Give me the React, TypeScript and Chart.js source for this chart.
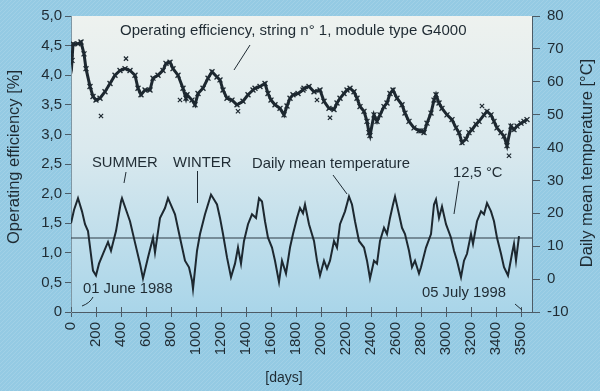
import React, { useEffect, useRef } from 'react';
import { Chart, registerables } from 'chart.js';

Chart.register(...registerables);

// Daily mean temperature [°C] vs. days
const tempDays = [0, 24, 56, 88, 112, 136, 176, 200, 224, 256, 296, 320, 360, 400, 408, 472, 512, 552, 576, 616, 656, 672, 712, 752, 776, 832, 872, 912, 944, 968, 976, 1008, 1032, 1072, 1120, 1168, 1192, 1216, 1248, 1280, 1312, 1336, 1360, 1384, 1416, 1448, 1480, 1504, 1528, 1552, 1576, 1608, 1632, 1664, 1688, 1720, 1752, 1776, 1808, 1832, 1856, 1872, 1904, 1944, 1968, 1992, 2024, 2048, 2072, 2104, 2128, 2152, 2192, 2224, 2248, 2272, 2304, 2344, 2368, 2392, 2424, 2448, 2472, 2504, 2528, 2552, 2576, 2592, 2624, 2648, 2672, 2704, 2728, 2752, 2784, 2800, 2840, 2880, 2904, 2920, 2944, 2968, 3000, 3040, 3064, 3088, 3120, 3144, 3168, 3200, 3216, 3248, 3280, 3304, 3328, 3360, 3384, 3408, 3440, 3464, 3496, 3528, 3544, 3560, 3584];
const tempValues = [17, 21, 24.6, 20.6, 16.7, 14.6, 2.6, 1.1, 4.7, 7.7, 11.3, 8.6, 14.6, 23.6, 24.6, 17.6, 11.1, 4.7, 0.2, 6.6, 12.6, 8.1, 18.6, 21.6, 24.6, 19.7, 12.6, 5.6, 3.6, -0.4, -3, 8.6, 13.7, 19.7, 25.7, 22.7, 18.6, 13.7, 6.6, 0.6, 4.7, 9.6, 4.7, 11.6, 16.7, 19.7, 18.6, 24.6, 23.6, 17.6, 12.6, 9.6, 5.6, -0.9, 5.6, 1.7, 9.6, 13.7, 18.6, 21.6, 20, 22.7, 16.7, 11.6, 5.6, 1.1, 5.6, 3.2, 5.6, 11.6, 9.6, 16.7, 20.6, 25.1, 22.7, 17.6, 11.6, 9.6, 5.6, 0.2, 5.6, 4.7, 11.6, 15.6, 13.7, 18.6, 22.7, 25.1, 19.7, 15.6, 13.7, 8.6, 3.6, 5.6, 1.7, 3.6, 9.6, 13.7, 22.7, 24.2, 18.6, 22.1, 16.7, 12.6, 8.6, 5.6, 0.6, 5.6, 7.7, 13.7, 10.7, 17.6, 20.6, 19.7, 23.1, 20.6, 17.6, 12.6, 7.7, 3.6, 1.1, 7.7, 10.7, 5.6, 13.1];

// Operating efficiency [%] vs. days
const effDays = [0, 8, 16, 56, 80, 104, 120, 152, 176, 200, 232, 272, 312, 352, 392, 432, 472, 512, 536, 560, 592, 632, 656, 696, 736, 760, 792, 816, 856, 896, 920, 928, 968, 992, 1016, 1056, 1096, 1128, 1168, 1192, 1216, 1248, 1288, 1328, 1376, 1416, 1456, 1472, 1512, 1552, 1576, 1600, 1632, 1672, 1704, 1728, 1752, 1776, 1816, 1856, 1864, 1904, 1944, 1992, 2024, 2064, 2104, 2128, 2152, 2184, 2208, 2232, 2264, 2288, 2312, 2344, 2368, 2384, 2392, 2424, 2448, 2472, 2504, 2528, 2552, 2576, 2608, 2648, 2672, 2704, 2744, 2784, 2800, 2824, 2848, 2880, 2904, 2920, 2944, 2968, 3008, 3048, 3080, 3104, 3128, 3160, 3184, 3208, 3240, 3264, 3304, 3328, 3360, 3384, 3408, 3440, 3464, 3488, 3520, 3544, 3568, 3600, 3624, 3648];
const effValues = [4.36, 4.25, 4.53, 4.53, 4.56, 4.36, 4.11, 3.81, 3.64, 3.58, 3.61, 3.72, 3.86, 4.0, 4.08, 4.11, 4.08, 4.0, 3.78, 3.67, 3.75, 3.75, 3.95, 4.0, 4.08, 4.2, 4.22, 4.11, 4.0, 3.78, 3.61, 3.67, 3.58, 3.5, 3.69, 3.78, 3.95, 4.06, 3.97, 3.92, 3.75, 3.61, 3.58, 3.5, 3.56, 3.67, 3.75, 3.78, 3.81, 3.86, 3.69, 3.58, 3.5, 3.44, 3.33, 3.48, 3.61, 3.67, 3.69, 3.75, 3.78, 3.81, 3.72, 3.75, 3.56, 3.44, 3.42, 3.53, 3.61, 3.69, 3.75, 3.78, 3.72, 3.61, 3.47, 3.39, 3.22, 3.03, 2.98, 3.33, 3.22, 3.33, 3.47, 3.53, 3.69, 3.75, 3.61, 3.5, 3.36, 3.22, 3.11, 3.06, 3.06, 3.03, 3.19, 3.36, 3.58, 3.67, 3.53, 3.44, 3.33, 3.25, 3.11, 3.03, 2.86, 2.92, 3.03, 3.08, 3.17, 3.22, 3.33, 3.39, 3.33, 3.22, 3.11, 3.03, 2.97, 2.81, 3.14, 3.08, 3.14, 3.19, 3.22, 3.25];

// isolated efficiency measurements off the main curve
const outlierDays = [240, 440, 872, 1336, 1968, 2072, 3288, 3504];
const outlierValues = [3.31, 4.28, 3.58, 3.39, 3.58, 3.28, 3.48, 2.64];

// 12,5 °C reference line
const refDays = [0, 3688];
const refValues = [12.5, 12.5];

const xTickValues = [0, 200, 400, 600, 800, 1000, 1200, 1400, 1600, 1800, 2000, 2200, 2400, 2600, 2800, 3000, 3200, 3400, 3600];
const xTickLabels = ['0', '200', '400', '600', '800', '1000', '1200', '1400', '1600', '1800', '2000', '2200', '2400', '2600', '2800', '3000', '3200', '3400', '3500'];
const effTickValues = [0, 0.5, 1, 1.5, 2, 2.5, 3, 3.5, 4, 4.5, 5];
const effTickLabels = ['0', '0,5', '1,0', '1,5', '2,0', '2,5', '3,0', '3,5', '4,0', '4,5', '5,0'];
const tempTickValues = [-10, 0, 10, 20, 30, 40, 50, 60, 70, 80];
const tempTickLabels = ['-10', '0', '10', '20', '30', '40', '50', '60', '70', '80'];

const FONT = '"Liberation Sans", Arial, Helvetica, sans-serif';
const INK = '#1f2b33';
const AXIS = '#4c5b66';

const bgPlugin = {
  id: 'bgPlugin',
  beforeDraw(chart: any) {
    const { ctx, chartArea: a, width, height } = chart;
    ctx.save();
    ctx.fillStyle = '#94cae3';
    ctx.fillRect(0, 0, width, height);
    // faint diagonal scan texture
    ctx.strokeStyle = 'rgba(255,255,255,0.13)';
    ctx.lineWidth = 1;
    for (let i = -height; i < width; i += 4) {
      ctx.beginPath();
      ctx.moveTo(i, height);
      ctx.lineTo(i + height, 0);
      ctx.stroke();
    }
    const g = ctx.createLinearGradient(0, a.top, 0, a.bottom);
    g.addColorStop(0, '#eef2ef');
    g.addColorStop(0.45, '#dae9ee');
    g.addColorStop(1, '#a9d5e9');
    ctx.fillStyle = g;
    ctx.fillRect(a.left, a.top, a.right - a.left, a.bottom - a.top);
    ctx.restore();
  },
};

const annoPlugin = {
  id: 'annoPlugin',
  afterDraw(chart: any) {
    const { ctx, chartArea: a } = chart;
    const xs = chart.scales.x;
    ctx.save();
    // inner halves of x tick marks
    ctx.strokeStyle = AXIS;
    ctx.lineWidth = 1;
    xTickValues.forEach((v) => {
      const px = Math.round(xs.getPixelForValue(v)) + 0.5;
      ctx.beginPath();
      ctx.moveTo(px, a.bottom - 5);
      ctx.lineTo(px, a.bottom);
      ctx.stroke();
    });

    ctx.fillStyle = INK;
    ctx.textBaseline = 'middle';
    // axis titles
    ctx.font = `16.5px ${FONT}`;
    ctx.textAlign = 'center';
    ctx.save();
    ctx.translate(14, 157);
    ctx.rotate(-Math.PI / 2);
    ctx.fillText('Operating efficiency [%]', 0, 0);
    ctx.restore();
    ctx.save();
    ctx.translate(587, 163);
    ctx.rotate(-Math.PI / 2);
    ctx.fillText('Daily mean temperature [°C]', 0, 0);
    ctx.restore();
    ctx.font = `14px ${FONT}`;
    ctx.fillText('[days]', 284, 378);

    // annotations
    ctx.font = `15px ${FONT}`;
    ctx.textAlign = 'left';
    ctx.fillText('Operating efficiency, string n° 1, module type G4000', 120, 31);
    ctx.font = `14.8px ${FONT}`;
    ctx.fillText('SUMMER', 92, 163);
    ctx.fillText('WINTER', 173, 163);
    ctx.fillText('Daily mean temperature', 252, 164);
    ctx.fillText('12,5 °C', 453, 173);
    ctx.fillText('01 June 1988', 83, 289);
    ctx.fillText('05 July 1998', 422, 293);

    // leader lines
    ctx.strokeStyle = INK;
    ctx.lineWidth = 1;
    const seg = (x1: number, y1: number, x2: number, y2: number) => {
      ctx.beginPath();
      ctx.moveTo(x1, y1);
      ctx.lineTo(x2, y2);
      ctx.stroke();
    };
    seg(250, 45, 234, 70);
    seg(126, 172, 124, 183);
    seg(197.5, 171, 197.5, 203);
    seg(333, 175, 347, 194);
    seg(459, 181, 454, 214);
    ctx.beginPath();
    ctx.moveTo(93, 297);
    ctx.quadraticCurveTo(90, 303, 82, 306);
    ctx.stroke();
    seg(515, 304, 522, 310);
    ctx.restore();
  },
};

export default function App() {
  const ref = useRef<HTMLCanvasElement | null>(null);

  useEffect(() => {
    if (!ref.current) return;
    const tickFont = { family: FONT, size: 15 };
    const chart = new Chart(ref.current, {
      type: 'line',
      data: {
        datasets: [
          {
            label: 'Daily mean temperature',
            data: tempDays.map((d, i) => ({ x: d, y: tempValues[i] })),
            yAxisID: 'yT',
            borderColor: '#1d2830',
            borderWidth: 2,
            pointRadius: 0,
            tension: 0,
          },
          {
            label: '12,5 °C',
            data: refDays.map((d, i) => ({ x: d, y: refValues[i] })),
            yAxisID: 'yT',
            borderColor: '#2c3a44',
            borderWidth: 1,
            pointRadius: 0,
          },
          {
            label: 'Operating efficiency',
            data: effDays.map((d, i) => ({ x: d, y: effValues[i] })),
            yAxisID: 'yE',
            borderColor: '#1d2830',
            borderWidth: 3,
            pointStyle: 'crossRot',
            pointRadius: 3.5,
            pointBorderWidth: 1.3,
            pointBorderColor: '#1d2830',
            tension: 0,
          },
          {
            label: 'Outliers',
            data: outlierDays.map((d, i) => ({ x: d, y: outlierValues[i] })),
            yAxisID: 'yE',
            showLine: false,
            pointStyle: 'crossRot',
            pointRadius: 3,
            pointBorderWidth: 1.2,
            pointBorderColor: '#1d2830',
          },
        ],
      },
      options: {
        responsive: false,
        animation: false,
        layout: { padding: { top: 12, left: 0, right: 0, bottom: 0 } },
        plugins: { legend: { display: false }, tooltip: { enabled: false } },
        scales: {
          x: {
            type: 'linear',
            min: 0,
            max: 3688,
            afterBuildTicks: (s: any) => {
              s.ticks = xTickValues.map((v) => ({ value: v }));
            },
            afterFit: (s: any) => {
              s.height = 79;
            },
            ticks: {
              autoSkip: false,
              minRotation: 90,
              maxRotation: 90,
              padding: 5,
              color: INK,
              font: tickFont,
              callback: (v: any) => xTickLabels[xTickValues.indexOf(Number(v))] ?? '',
            },
            grid: { drawOnChartArea: false, tickLength: 5, color: AXIS },
            border: { color: AXIS, width: 1 },
          },
          yE: {
            type: 'linear',
            position: 'left',
            min: 0,
            max: 5,
            afterBuildTicks: (s: any) => {
              s.ticks = effTickValues.map((v) => ({ value: v }));
            },
            afterFit: (s: any) => {
              s.width = 71;
            },
            ticks: {
              padding: 3,
              color: INK,
              font: tickFont,
              callback: (v: any) => effTickLabels[effTickValues.indexOf(Number(v))] ?? '',
            },
            grid: { drawOnChartArea: false, tickLength: 6, color: AXIS },
            border: { color: '#7f97a4', width: 1 },
          },
          yT: {
            type: 'linear',
            position: 'right',
            min: -10,
            max: 80,
            afterBuildTicks: (s: any) => {
              s.ticks = tempTickValues.map((v) => ({ value: v }));
            },
            afterFit: (s: any) => {
              s.width = 68;
            },
            ticks: {
              padding: 7,
              color: INK,
              font: tickFont,
              callback: (v: any) => tempTickLabels[tempTickValues.indexOf(Number(v))] ?? '',
            },
            grid: { drawOnChartArea: false, tickLength: 8, color: AXIS },
            border: { color: AXIS, width: 1 },
          },
        },
      },
      plugins: [bgPlugin, annoPlugin],
    } as any);
    return () => chart.destroy();
  }, []);

  return (
    <div style={{ position: 'absolute', left: 0, top: 0, width: 600, height: 391 }}>
      <canvas ref={ref} width={600} height={391} style={{ width: 600, height: 391, display: 'block' }} />
    </div>
  );
}
